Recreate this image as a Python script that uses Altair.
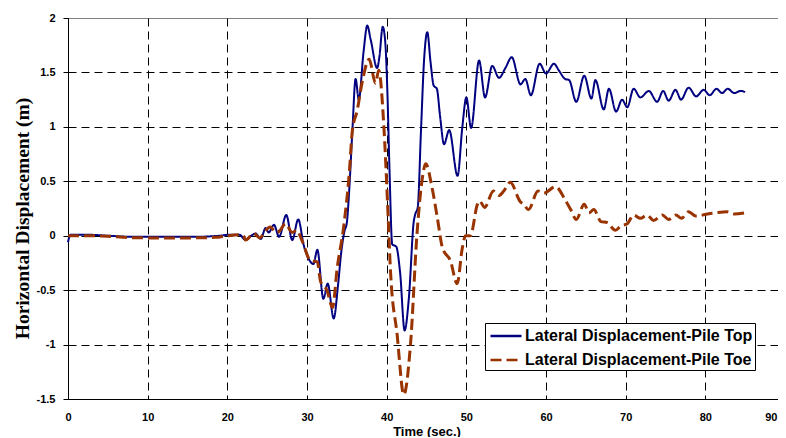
import altair as alt
import pandas as pd

# ---- data ----
t_top = [0, 0.3, 2, 5, 8, 12, 16, 19, 20.5, 21.5,
         22.3, 23.0, 23.55, 24.2, 24.8, 25.2, 25.85, 26.5, 27.4, 28.15,
         28.9, 29.6, 30.2, 30.8, 31.3, 32.05, 32.6, 33.35, 33.9, 34.3,
         34.7, 35.0, 35.3, 35.7, 36.1, 36.5, 37.1, 37.56, 38.0, 38.8,
         39.1, 39.5, 39.8, 40.1, 40.35, 40.7, 41.2, 41.7, 42.25, 42.8,
         43.4, 43.6, 43.9, 44.3, 44.7, 45.1, 45.5, 45.9, 46.3, 46.7,
         47.2, 47.85, 48.9, 49.5, 50.0, 50.6, 51.6, 52.35, 53.25, 54.1,
         54.9, 55.7, 56.8, 57.4, 58.1, 59.2, 60.0, 61.0, 61.6, 62.4,
         62.9, 63.8, 64.8, 65.7, 66.2, 67.25, 67.9, 68.8, 69.55, 70.2,
         71.0, 71.85, 72.9, 73.95, 74.7, 75.4, 76.25, 76.95, 77.9, 78.85,
         79.8, 80.55, 81.4, 82.1, 82.8, 83.65, 84.4, 85.0]
v_top = [-0.06, 0.01, 0.01, 0.0, -0.01, -0.01, -0.01, 0.0, 0.01, 0.01,
         -0.04, 0.0, 0.02, -0.03, 0.07, 0.03, 0.10, -0.01, 0.19, -0.04,
         0.15, -0.09, -0.21, -0.26, -0.13, -0.58, -0.44, -0.76, -0.45, -0.15,
         0.04, 0.12, 0.42, 0.97, 1.44, 1.25, 1.69, 1.93, 1.80, 1.54,
         1.65, 1.92, 1.80, 1.30, 0.62, -0.08, -0.10, -0.35, -0.87, -0.56,
         0.13, 0.20, 0.26, 0.95, 1.62, 1.87, 1.60, 1.38, 1.35, 1.10,
         0.84, 0.97, 0.55, 1.00, 1.27, 0.99, 1.61, 1.27, 1.56, 1.45,
         1.54, 1.64, 1.39, 1.44, 1.29, 1.58, 1.49, 1.58, 1.52, 1.44,
         1.43, 1.23, 1.47, 1.26, 1.43, 1.16, 1.35, 1.14, 1.25, 1.18,
         1.35, 1.27, 1.33, 1.23, 1.33, 1.24, 1.34, 1.25, 1.36, 1.28,
         1.34, 1.29, 1.35, 1.31, 1.35, 1.31, 1.33, 1.32]

t_toe = [0, 3, 5, 7, 10, 15, 18.5, 20, 21.5, 22.0,
         22.3, 23.3, 24.1, 24.6, 25.4, 26.1, 26.5, 27.3, 28.15, 28.7,
         29.4, 30.45, 31.3, 31.7, 32.5, 33.2, 33.8, 34.6, 35.3, 35.7,
         36.3, 36.9, 37.8, 38.6, 39.0, 39.65, 40.1, 40.5, 41.3, 42.15,
         43.0, 43.8, 44.5, 44.9, 45.7, 46.35, 47.0, 48.0, 48.85, 49.5,
         49.9, 50.5, 51.4, 51.65, 52.3, 53.4, 54.1, 54.7, 55.5, 56.8,
         57.2, 57.8, 59.0, 59.7, 61.2, 62.4, 63.1, 63.8, 64.8, 65.4,
         66.0, 66.9, 67.7, 68.7, 69.4, 70.2, 71.0, 71.85, 72.7, 73.5,
         74.6, 75.4, 76.3, 77.0, 77.9, 78.8, 80.3, 81.3, 82.7, 83.6,
         85.0]
v_toe = [0.0, 0.0, -0.005, -0.015, -0.02, -0.02, -0.015, 0.0, 0.01, 0.0,
         -0.04, 0.02, -0.02, 0.03, 0.08, 0.03, 0.04, 0.11, 0.03, 0.05,
         -0.05, -0.23, -0.24, -0.42, -0.50, -0.66, -0.29, 0.08, 0.57, 0.97,
         1.15, 1.40, 1.62, 1.40, 1.52, 1.00, 0.32, -0.35, -0.90, -1.46,
         -0.99, 0.01, 0.54, 0.66, 0.44, 0.17, -0.11, -0.23, -0.44, -0.11,
         0.0, 0.0, 0.29, 0.32, 0.26, 0.41, 0.37, 0.41, 0.49, 0.31,
         0.29, 0.24, 0.41, 0.39, 0.45, 0.33, 0.24, 0.15, 0.29, 0.21,
         0.24, 0.13, 0.12, 0.05, 0.09, 0.11, 0.19, 0.16, 0.19, 0.14,
         0.19, 0.15, 0.19, 0.16, 0.22, 0.18, 0.20, 0.21, 0.22, 0.20,
         0.21]

series = ["Lateral Displacement-Pile Top", "Lateral Displacement-Pile Toe"]
colors = ["#000080", "#993300"]
x_ticks = [0, 10, 20, 30, 40, 50, 60, 70, 80, 90]
y_ticks = [-1.5, -1, -0.5, 0, 0.5, 1, 1.5, 2]

df = pd.concat([
    pd.DataFrame({"t": t_top, "v": v_top, "s": series[0], "o": 0}),
    pd.DataFrame({"t": t_toe, "v": v_toe, "s": series[1], "o": 1}),
], ignore_index=True)

x_enc = alt.X("t:Q",
              scale=alt.Scale(domain=[0, 90], nice=False, zero=False),
              axis=alt.Axis(values=x_ticks, ticks=False, labelPadding=12,
                            labelAlign={"condition": {"test": "datum.value >= 90", "value": "right"}, "value": "center"},
                            labelOffset={"condition": {"test": "datum.value >= 90", "value": -8}, "value": 0},
                            title="Time (sec.)", titleFontSize=13,
                            titleY=32, titleBaseline="middle",
                            gridOpacity={"condition": {"test": "datum.value >= 90", "value": 0}, "value": 1}))
y_enc = alt.Y("v:Q",
              scale=alt.Scale(domain=[-1.5, 2], nice=False, zero=False),
              axis=alt.Axis(values=y_ticks, labelExpr="toString(datum.value)",
                            tickSize=5, labelPadding=8,
                            title="Horizontal Displacement (m)",
                            titleFont="Liberation Serif", titleFontSize=19.5,
                            titleX=-46, titleY=200, titleBaseline="middle",
                            gridOpacity={"condition": {"test": "datum.value >= 2", "value": 0}, "value": 1}))
legend = alt.Legend(title=None, orient="none", legendX=417, legendY=305)
color_enc = alt.Color("s:N", scale=alt.Scale(domain=series, range=colors), legend=legend)
dash_enc = alt.StrokeDash("s:N", scale=alt.Scale(domain=series, range=[[1, 0], [11, 5]]),
                          legend=legend)

base = alt.Chart(df)
top = base.transform_filter(alt.datum.o == 0).mark_line(
    interpolate="monotone", strokeWidth=2).encode(
    x=x_enc, y=y_enc, color=color_enc, strokeDash=dash_enc, order="t:Q")
toe = base.transform_filter(alt.datum.o == 1).mark_line(
    interpolate="monotone", strokeWidth=3).encode(
    x=x_enc, y=y_enc, color=color_enc, strokeDash=dash_enc, order="t:Q")

chart = alt.layer(top, toe).properties(
    width=717, height=381,
    autosize=alt.AutoSizeParams(type="none"),
    padding={"left": 60, "top": 10, "right": -7, "bottom": 38},
).configure_view(
    stroke="#808080", strokeWidth=1
).configure_axis(
    labelFont="Liberation Sans", labelFontWeight="bold", labelFontSize=11, labelColor="#000",
    titleFont="Liberation Sans", titleFontWeight="bold", titleColor="#000",
    domainColor="#000", domainWidth=1, tickColor="#000",
    gridColor="#000", gridDash=[8, 5], gridWidth=1,
).configure_legend(
    strokeColor="#000", fillColor="#fff", padding=2, cornerRadius=0,
    labelFont="Liberation Sans", labelFontWeight="bold", labelFontSize=16, labelColor="#000",
    symbolType="M-1.63,0H1.63", symbolSize=361, symbolStrokeWidth=2.5,
    symbolOffset=8, labelOffset=8, rowPadding=5, labelLimit=400,
)

chart.save("out.html", embed_options={"renderer": "svg", "actions": False})
